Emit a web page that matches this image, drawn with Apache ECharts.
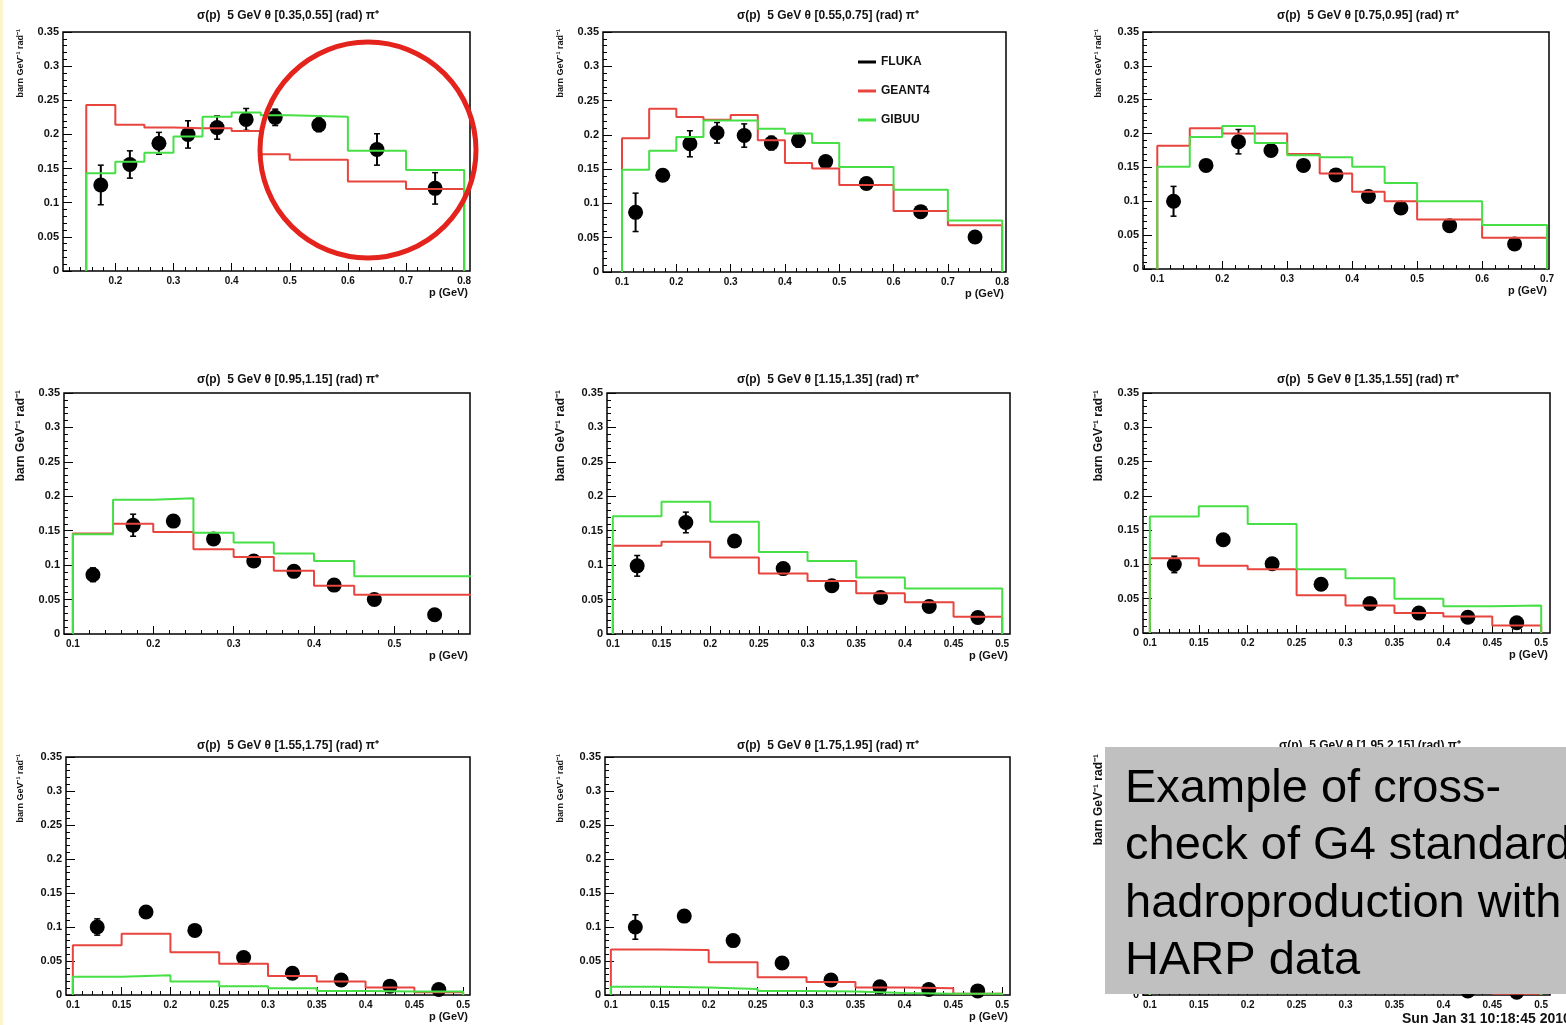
<!DOCTYPE html>
<html>
<head>
<meta charset="utf-8">
<script src="https://cdn.jsdelivr.net/npm/echarts@6/dist/echarts.min.js"></script>
<style>html,body{margin:0;padding:0;background:#fff;}#chart{width:1566px;height:1025px;}</style>
</head>
<body>
<div id="chart"></div>
<script>
// ---------------- DATA ----------------
const titles = [
  'σ(p)  5 GeV θ [0.35,0.55] (rad) π⁺',
  'σ(p)  5 GeV θ [0.55,0.75] (rad) π⁺',
  'σ(p)  5 GeV θ [0.75,0.95] (rad) π⁺',
  'σ(p)  5 GeV θ [0.95,1.15] (rad) π⁺',
  'σ(p)  5 GeV θ [1.15,1.35] (rad) π⁺',
  'σ(p)  5 GeV θ [1.35,1.55] (rad) π⁺',
  'σ(p)  5 GeV θ [1.55,1.75] (rad) π⁺',
  'σ(p)  5 GeV θ [1.75,1.95] (rad) π⁺',
  'σ(p)  5 GeV θ [1.95,2.15] (rad) π⁺'
];
const legendNames = ['FLUKA', 'GEANT4', 'GIBUU'];
const yAxisTitle = 'barn GeV⁻¹ rad⁻¹';
const xAxisTitle = 'p (GeV)';
const stampText = 'Sun Jan 31 10:18:45 2010';
const boxLines = ['Example of cross-', 'check of G4 standard', 'hadroproduction with', 'HARP data'];

const ticks1 = ['0.2','0.3','0.4','0.5','0.6','0.7','0.8'];
const ticks2 = ['0.1','0.2','0.3','0.4','0.5','0.6','0.7','0.8'];
const ticks3 = ['0.1','0.2','0.3','0.4','0.5','0.6','0.7'];
const ticks4 = ['0.1','0.2','0.3','0.4','0.5'];
const ticks5 = ['0.1','0.15','0.2','0.25','0.3','0.35','0.4','0.45','0.5'];

// panel 1  θ [0.35,0.55]
const p1Edges  = [0.15,0.2,0.25,0.3,0.35,0.4,0.45,0.5,0.6,0.7,0.8];
const p1Geant4 = [0.243,0.214,0.210,0.209,0.209,0.205,0.171,0.163,0.131,0.120];
const p1Gibuu  = [0.143,0.160,0.173,0.197,0.226,0.232,0.228,0.226,0.176,0.148];
const p1X   = [0.175,0.225,0.275,0.325,0.375,0.425,0.475,0.55,0.65,0.75];
const p1Y   = [0.126,0.156,0.187,0.200,0.210,0.222,0.225,0.214,0.178,0.121];
const p1Err = [0.029,0.020,0.016,0.020,0.017,0.016,0.012,0.010,0.023,0.023];

// panel 2  θ [0.55,0.75]
const p2Edges  = [0.1,0.15,0.2,0.25,0.3,0.35,0.4,0.45,0.5,0.6,0.7,0.8];
const p2Geant4 = [0.195,0.238,0.226,0.222,0.229,0.192,0.159,0.151,0.127,0.089,0.068];
const p2Gibuu  = [0.149,0.177,0.197,0.221,0.221,0.209,0.202,0.188,0.153,0.120,0.075];
const p2X   = [0.125,0.175,0.225,0.275,0.325,0.375,0.425,0.475,0.55,0.65,0.75];
const p2Y   = [0.087,0.141,0.187,0.203,0.199,0.188,0.192,0.161,0.129,0.088,0.051];
const p2Err = [0.028,0.006,0.019,0.015,0.017,0.010,0.010,0.008,0.007,0.006,0.005];

// panel 3  θ [0.75,0.95]
const p3Edges  = [0.1,0.15,0.2,0.25,0.3,0.35,0.4,0.45,0.5,0.6,0.7];
const p3Geant4 = [0.182,0.208,0.200,0.200,0.170,0.141,0.114,0.100,0.073,0.046];
const p3Gibuu  = [0.151,0.195,0.211,0.186,0.168,0.165,0.151,0.127,0.100,0.065];
const p3X   = [0.125,0.175,0.225,0.275,0.325,0.375,0.425,0.475,0.55,0.65];
const p3Y   = [0.100,0.153,0.188,0.175,0.153,0.139,0.107,0.090,0.064,0.037];
const p3Err = [0.022,0.006,0.018,0.008,0.006,0.006,0.005,0.005,0.004,0.003];

// panel 4  θ [0.95,1.15]
const p4Edges  = [0.1,0.15,0.2,0.25,0.3,0.35,0.4,0.45,0.5,0.6];
const p4Geant4 = [0.146,0.160,0.148,0.123,0.112,0.092,0.070,0.057,0.057];
const p4Gibuu  = [0.145,0.195,0.197,0.147,0.133,0.117,0.106,0.084,0.084];
const p4X   = [0.125,0.175,0.225,0.275,0.325,0.375,0.425,0.475,0.55];
const p4Y   = [0.086,0.158,0.164,0.138,0.106,0.091,0.071,0.050,0.028];
const p4Err = [0.010,0.016,0.008,0.006,0.005,0.005,0.004,0.003,0.003];

// panels 5-9 share bins
const pEdges = [0.1,0.15,0.2,0.25,0.3,0.35,0.4,0.45,0.5];
const pX     = [0.125,0.175,0.225,0.275,0.325,0.375,0.425,0.475];

// panel 5  θ [1.15,1.35]
const p5Geant4 = [0.128,0.134,0.111,0.088,0.077,0.059,0.046,0.025];
const p5Gibuu  = [0.171,0.192,0.163,0.119,0.106,0.082,0.066,0.066];
const p5Y   = [0.099,0.162,0.135,0.095,0.070,0.053,0.040,0.024];
const p5Err = [0.015,0.015,0.008,0.005,0.004,0.003,0.003,0.002];

// panel 6  θ [1.35,1.55]
const p6Geant4 = [0.109,0.098,0.093,0.055,0.040,0.029,0.024,0.011];
const p6Gibuu  = [0.170,0.185,0.159,0.093,0.080,0.050,0.039,0.040];
const p6Y   = [0.100,0.136,0.101,0.071,0.043,0.029,0.023,0.015];
const p6Err = [0.012,0.005,0.005,0.004,0.003,0.003,0.002,0.002];

// panel 7  θ [1.55,1.75]
const p7Geant4 = [0.073,0.090,0.063,0.046,0.028,0.020,0.011,0.004];
const p7Gibuu  = [0.027,0.029,0.020,0.013,0.010,0.006,0.005,0.005];
const p7Y   = [0.100,0.122,0.095,0.055,0.032,0.022,0.013,0.008];
const p7Err = [0.012,0.006,0.005,0.004,0.003,0.003,0.002,0.002];

// panel 8  θ [1.75,1.95]
const p8Geant4 = [0.067,0.066,0.048,0.026,0.019,0.011,0.010,0.002];
const p8Gibuu  = [0.012,0.011,0.009,0.006,0.005,0.003,0.002,0.002];
const p8Y   = [0.100,0.116,0.080,0.047,0.022,0.012,0.008,0.006];
const p8Err = [0.018,0.007,0.005,0.004,0.003,0.002,0.002,0.002];

// panel 9  θ [1.95,2.15]  (mostly hidden by the note box; estimated)
const p9Geant4 = [0.055,0.050,0.035,0.020,0.012,0.008,0.006,0.002];
const p9Gibuu  = [0.008,0.008,0.006,0.005,0.004,0.003,0.003,0.003];
const p9Y   = [0.085,0.095,0.065,0.038,0.020,0.014,0.006,0.004];
const p9Err = [0.015,0.006,0.004,0.003,0.002,0.002,0.002,0.002];

// ---------------- LAYOUT / STYLE ----------------
const FONT = '"Liberation Sans", Arial, Helvetica, sans-serif';
const RED = '#e8453f';
const GREEN = '#46e046';

const panels = [
  {edges:p1Edges, g4:p1Geant4, gi:p1Gibuu, x:p1X, y:p1Y, err:p1Err, ticks:ticks1},
  {edges:p2Edges, g4:p2Geant4, gi:p2Gibuu, x:p2X, y:p2Y, err:p2Err, ticks:ticks2},
  {edges:p3Edges, g4:p3Geant4, gi:p3Gibuu, x:p3X, y:p3Y, err:p3Err, ticks:ticks3},
  {edges:p4Edges, g4:p4Geant4, gi:p4Gibuu, x:p4X, y:p4Y, err:p4Err, ticks:ticks4},
  {edges:pEdges, g4:p5Geant4, gi:p5Gibuu, x:pX, y:p5Y, err:p5Err, ticks:ticks5},
  {edges:pEdges, g4:p6Geant4, gi:p6Gibuu, x:pX, y:p6Y, err:p6Err, ticks:ticks5},
  {edges:pEdges, g4:p7Geant4, gi:p7Gibuu, x:pX, y:p7Y, err:p7Err, ticks:ticks5},
  {edges:pEdges, g4:p8Geant4, gi:p8Gibuu, x:pX, y:p8Y, err:p8Err, ticks:ticks5},
  {edges:pEdges, g4:p9Geant4, gi:p9Gibuu, x:pX, y:p9Y, err:p9Err, ticks:ticks5}
];

const layout = [
  {left:63,   top:32,  width:407, height:239, xMin:0.11,  xMax:0.81,  minor:0.02, yt:21,   ytFs:9,  tx:288,  ty:16,  xt:true},
  {left:603,  top:32,  width:403, height:240, xMin:0.065, xMax:0.807, minor:0.02, yt:561,  ytFs:9,  tx:828,  ty:16,  xt:true},
  {left:1143, top:32,  width:406, height:237, xMin:0.078, xMax:0.703, minor:0.02, yt:1099, ytFs:9,  tx:1368, ty:16,  xt:true},
  {left:64,   top:393, width:406, height:241, xMin:0.089, xMax:0.594, minor:0.02, yt:21,   ytFs:12, tx:288,  ty:380, xt:true},
  {left:607,  top:393, width:403, height:241, xMin:0.094, xMax:0.508, minor:0.01, yt:561,  ytFs:12, tx:828,  ty:380, xt:true},
  {left:1143, top:393, width:407, height:240, xMin:0.093, xMax:0.509, minor:0.01, yt:1099, ytFs:12, tx:1368, ty:380, xt:true},
  {left:66,   top:757, width:404, height:238, xMin:0.093, xMax:0.507, minor:0.01, yt:21,   ytFs:9,  tx:288,  ty:746, xt:true},
  {left:605,  top:757, width:405, height:238, xMin:0.094, xMax:0.508, minor:0.01, yt:561,  ytFs:9,  tx:828,  ty:746, xt:true},
  {left:1143, top:757, width:407, height:238, xMin:0.093, xMax:0.509, minor:0.01, yt:1099, ytFs:12, tx:1370, ty:746, xt:false}
];

function stepLine(edges, vals) {
  const pts = [[edges[0], 0]];
  for (let i = 0; i < vals.length; i++) {
    pts.push([edges[i], vals[i]]);
    pts.push([edges[i + 1], vals[i]]);
  }
  pts.push([edges[vals.length], 0]);
  return pts;
}
function minorValues(min, max, step) {
  const out = [];
  for (let k = Math.ceil(min / step - 1e-9); k * step <= max + 1e-9; k++) out.push(+(k * step).toFixed(4));
  return out;
}
const fmt = v => String(+(+v).toFixed(3));

const grids = [], xAxes = [], yAxes = [], series = [], graphics = [];

layout.forEach((l, i) => {
  const p = panels[i];
  grids.push({left:l.left, top:l.top, width:l.width, height:l.height, show:true,
    borderColor:'#000', borderWidth:1.5, backgroundColor:'#fff'});
  const major = p.ticks.map(Number);
  xAxes.push({
    gridIndex:i, type:'value', min:l.xMin, max:l.xMax, position:'bottom',
    axisLine:{show:false}, splitLine:{show:false},
    axisTick:{show:true, inside:true, length:8, interval:0, customValues:major, lineStyle:{color:'#000', width:1}},
    axisLabel:{show:true, interval:0, customValues:major, formatter:fmt, fontSize:10, fontWeight:'bold',
      color:'#111', margin:5, fontFamily:FONT}
  });
  xAxes.push({
    gridIndex:i, type:'value', min:l.xMin, max:l.xMax, position:'bottom',
    axisLine:{show:false}, splitLine:{show:false}, axisLabel:{show:false},
    axisTick:{show:true, inside:true, length:4, interval:0, customValues:minorValues(l.xMin, l.xMax, l.minor),
      lineStyle:{color:'#000', width:1}}
  });
  yAxes.push({
    gridIndex:i, type:'value', min:0, max:0.35, interval:0.05,
    axisLine:{show:false}, splitLine:{show:false},
    axisTick:{show:true, inside:true, length:9, lineStyle:{color:'#000', width:1}},
    minorTick:{show:true, splitNumber:5, length:4, lineStyle:{color:'#000', width:1}},
    axisLabel:{formatter:fmt, fontSize:11, fontWeight:'bold', color:'#111', margin:4, fontFamily:FONT}
  });

  // data points
  series.push({
    type:'scatter', name:'HARP', xAxisIndex:2 * i, yAxisIndex:i, z:2, silent:true,
    symbol:'circle', symbolSize:15, itemStyle:{color:'#000', opacity:1},
    data:p.x.map((x, j) => [x, p.y[j]])
  });
  // error bars
  series.push({
    type:'custom', name:'HARP errors', xAxisIndex:2 * i, yAxisIndex:i, z:2, silent:true,
    data:p.x.map((x, j) => [x, p.y[j], p.err[j]]),
    encode:{x:0, y:1},
    renderItem:function (params, api) {
      const x = api.value(0), y = api.value(1), e = api.value(2);
      const a = api.coord([x, y + e]), b = api.coord([x, y - e]);
      const c = 3;
      return {type:'group', children:[
        {type:'line', shape:{x1:a[0], y1:a[1], x2:b[0], y2:b[1]}, style:{stroke:'#000', lineWidth:2}},
        {type:'line', shape:{x1:a[0]-c, y1:a[1], x2:a[0]+c, y2:a[1]}, style:{stroke:'#000', lineWidth:1.5}},
        {type:'line', shape:{x1:b[0]-c, y1:b[1], x2:b[0]+c, y2:b[1]}, style:{stroke:'#000', lineWidth:1.5}}
      ]};
    }
  });
  // GEANT4 histogram
  series.push({
    type:'line', name:'GEANT4', xAxisIndex:2 * i, yAxisIndex:i, z:3, silent:true,
    symbol:'none', data:stepLine(p.edges, p.g4),
    lineStyle:{color:RED, width:2}, itemStyle:{color:RED}
  });
  // GIBUU histogram
  series.push({
    type:'line', name:'GIBUU', xAxisIndex:2 * i, yAxisIndex:i, z:3, silent:true,
    symbol:'none', data:stepLine(p.edges, p.gi),
    lineStyle:{color:GREEN, width:2}, itemStyle:{color:GREEN}
  });

  // titles
  graphics.push({type:'text', x:l.tx, y:l.ty, z:10, silent:true,
    style:{text:titles[i], font:'bold 12px ' + FONT, fill:'#111',
      align:'center', verticalAlign:'middle', textAlign:'center', textVerticalAlign:'middle'}});
  graphics.push({type:'text', x:l.yt, y:l.top - 3, rotation:Math.PI / 2, z:10, silent:true,
    style:{text:yAxisTitle, font:'bold ' + l.ytFs + 'px ' + FONT, fill:'#111',
      align:'right', verticalAlign:'middle', textAlign:'right', textVerticalAlign:'middle'}});
  if (l.xt) {
    graphics.push({type:'text', x:l.left + l.width - 2, y:l.top + l.height + 22, z:10, silent:true,
      style:{text:xAxisTitle, font:'bold 11px ' + FONT, fill:'#111',
        align:'right', verticalAlign:'middle', textAlign:'right', textVerticalAlign:'middle'}});
  }
});

// FLUKA (legend entry only, not drawn in the panels)
series.push({type:'line', name:'FLUKA', xAxisIndex:2, yAxisIndex:1, data:[], symbol:'none',
  lineStyle:{color:'#000', width:3}, itemStyle:{color:'#000'}});

// annotation circle on panel 1
graphics.push({type:'circle', z:50, silent:true, shape:{cx:368, cy:150, r:108},
  style:{fill:'none', stroke:'#e3231c', lineWidth:5}});
// left yellow margin strip
graphics.push({type:'rect', z:0, silent:true, shape:{x:0, y:0, width:3, height:1025},
  style:{fill:'#fbf4cc'}});
// time stamp
graphics.push({type:'text', x:1402, y:1019, z:10, silent:true,
  style:{text:stampText, font:'bold 14px ' + FONT, fill:'#111',
    align:'left', verticalAlign:'middle', textAlign:'left', textVerticalAlign:'middle'}});
// grey note box
graphics.push({type:'rect', z:100, silent:true, shape:{x:1105, y:747, width:480, height:247},
  style:{fill:'#c0c0c0'}});
graphics.push({type:'text', x:1125, y:760, z:101, silent:true,
  style:{text:boxLines.join('\n'), font:'47px ' + FONT, lineHeight:57.5, fill:'#000',
    align:'left', verticalAlign:'top', textAlign:'left', textVerticalAlign:'top'}});

const option = {
  animation:false,
  backgroundColor:'#fff',
  textStyle:{fontFamily:FONT},
  legend:{
    orient:'vertical', left:858, top:56, itemWidth:18, itemHeight:3, itemGap:17,
    icon:'rect', selectedMode:false, padding:0,
    data:legendNames,
    textStyle:{fontSize:12, fontWeight:'bold', color:'#111', fontFamily:FONT}
  },
  grid:grids, xAxis:xAxes, yAxis:yAxes, series:series, graphic:{elements:graphics}
};

const chart = echarts.init(document.getElementById('chart'), null, {renderer:'canvas'});
chart.setOption(option);
</script>
</body>
</html>
